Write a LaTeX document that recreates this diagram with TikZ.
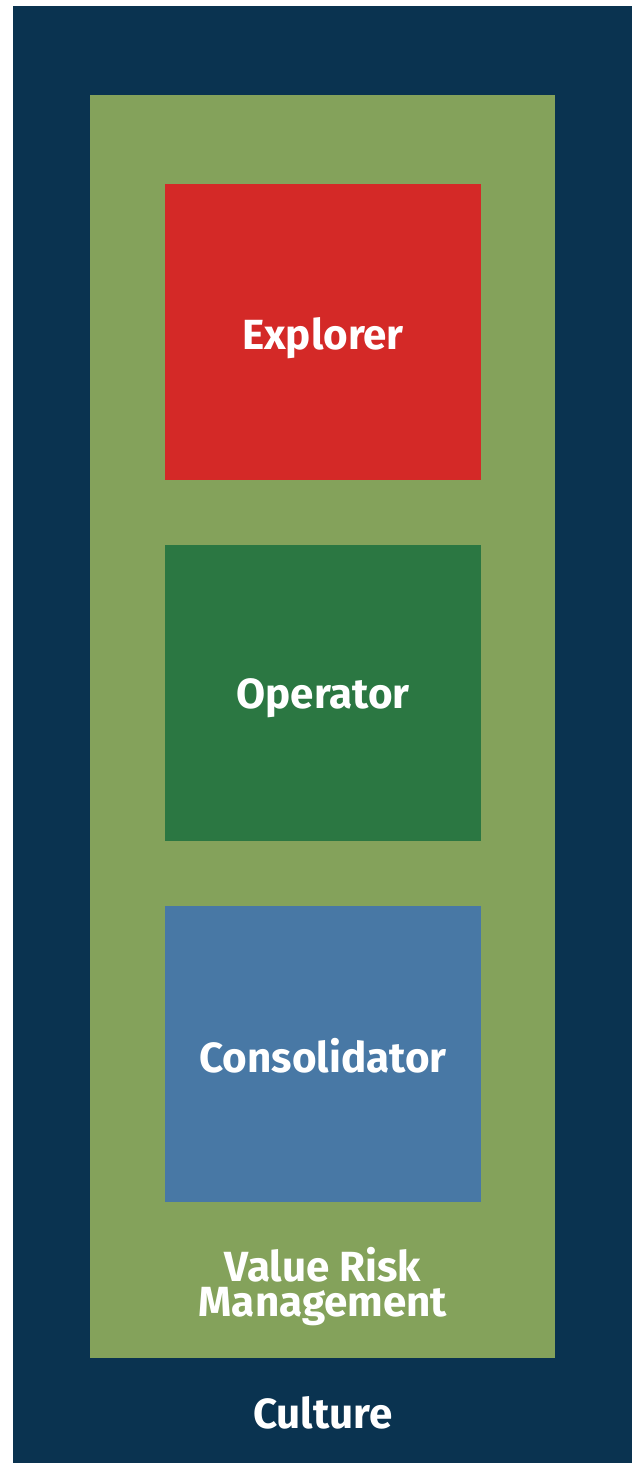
\documentclass[tikz,border=0pt]{standalone}
\usepackage{fontspec}
\setmainfont{Fira Sans}
\usetikzlibrary{positioning}
\definecolor{navy}{HTML}{0A3350}
\definecolor{olive}{HTML}{84A25B}
\definecolor{redbox}{HTML}{D42927}
\definecolor{greenbox}{HTML}{2B7742}
\definecolor{bluebox}{HTML}{4878A5}
\tikzset{
x=0.02cm, y=-0.02cm, % one unit is one pixel of the reference
layer/.style={rectangle, inner sep=0pt, outer sep=0pt}, % the nested frames
tier/.style={layer, minimum width=6.32cm, minimum height=5.92cm}, % the three inner boxes
lbl/.style={text=white, font=\bfseries\fontsize{24}{25}\selectfont, align=center, text depth=0pt}, % white bold labels
}
\begin{document}
\begin{tikzpicture}
        \useasboundingbox (0,0) rectangle (640,1463);
        \node[layer, fill=navy, minimum width=12.38cm, minimum height=29.14cm] at (322.5,734.5) (culture) {};
        \node[layer, fill=olive, minimum width=9.3cm, minimum height=25.26cm] at (322.5,726.5) (vrm) {};
        \node[tier, fill=redbox] at (323,332) (explorer) {};
        \node[tier, fill=greenbox] at (323,693) (operator) {};
        \node[tier, fill=bluebox] at (323,1054) (consolidator) {};
        \node[lbl] at (323,333) (explorerlbl) {Explorer};
        \node[lbl] at (323,694) (operatorlbl) {Operator};
        \node[lbl] at (323,1055) (consolidatorlbl) {Consolidator};
        \node[lbl] at (323,1282) (vrmlbl) {Value Risk\\[-5pt]Management};
        \node[lbl] at (323,1412) (culturelbl) {Culture};
    \end{tikzpicture}
\end{document}
